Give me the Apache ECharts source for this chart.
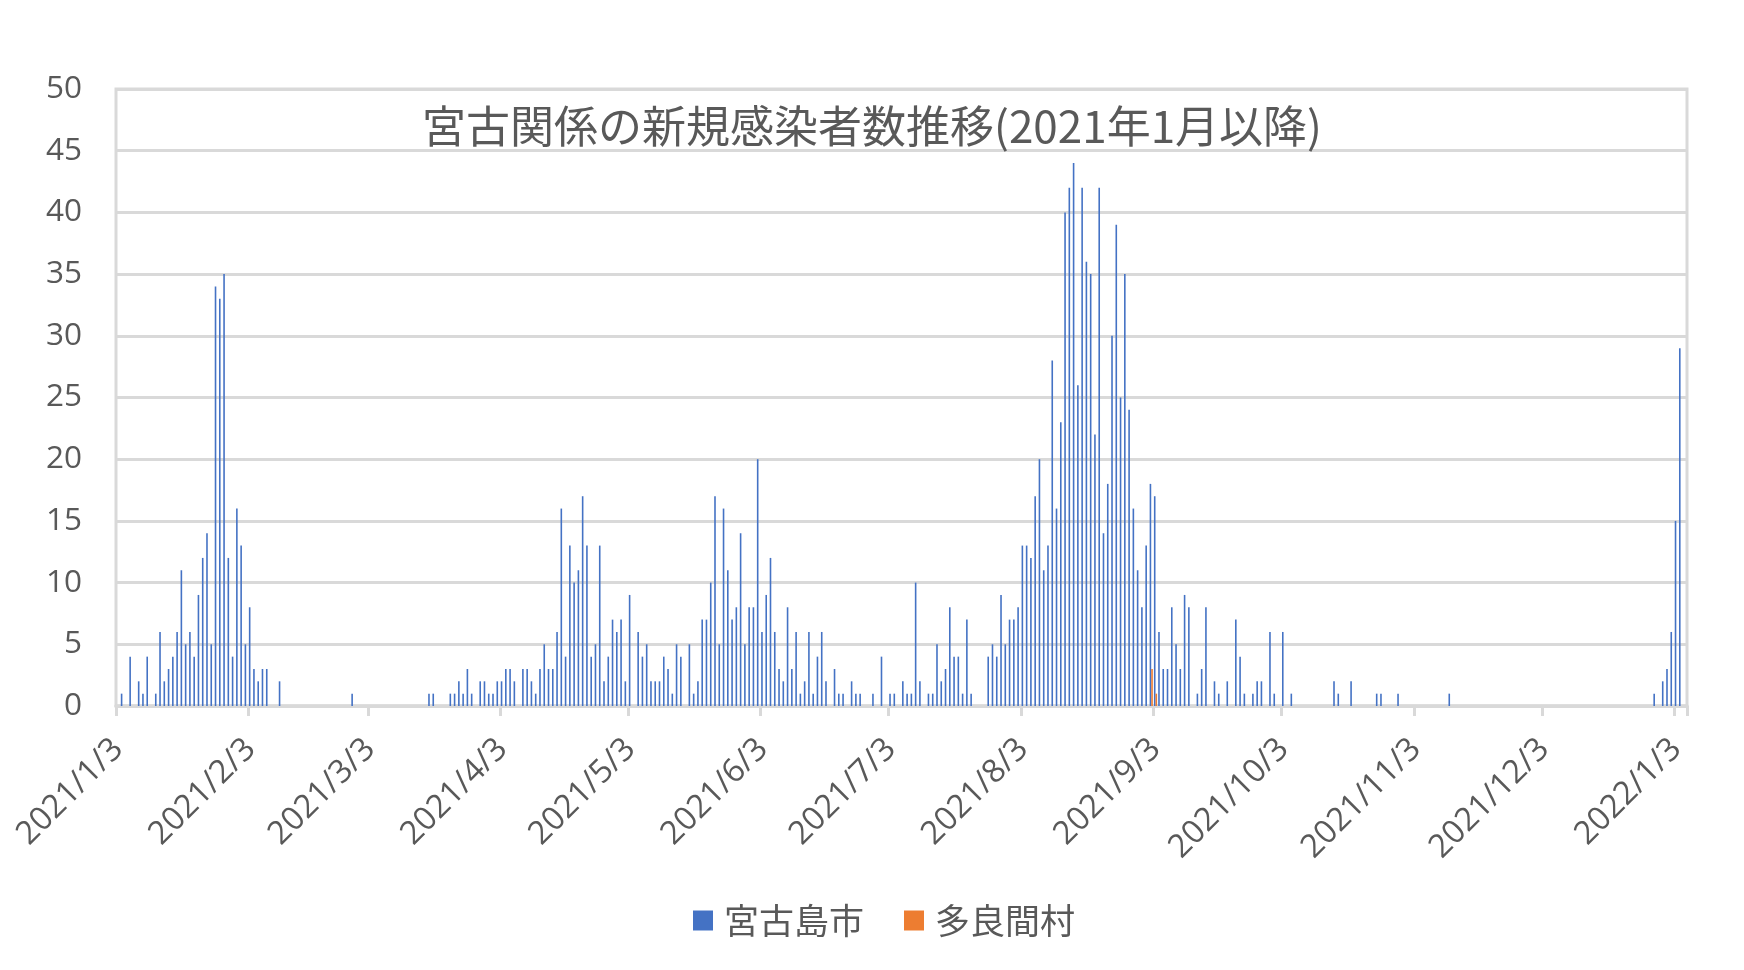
<!DOCTYPE html>
<html>
<head>
<meta charset="utf-8">
<script src="https://cdn.jsdelivr.net/npm/echarts@6/dist/echarts.min.js"></script>
<style>
html,body{margin:0;padding:0;background:#fff;}
#chart{width:1744px;height:970px;}
</style>
</head>
<body>
<div id="chart"></div>
<script>
// ---- data ----
const chartTitle = '宮古関係の新規感染者数推移(2021年1月以降)';
const seriesNames = ['宮古島市', '多良間村'];
const firstDay = [2021, 1, 3];   // year, month, day of first category
const dayCount = 368;            // 2021/1/3 .. 2022/1/5

// 宮古島市 daily counts, one row per month segment (3rd .. 2nd of next month)
const miyako_0103 = [0,1,0,4,0,2,1,4,0,1,6,2,3,4,6,11,5,6,4,9,12,14,5,34,33,35,12,4,16,13,5];
const miyako_0203 = [8,3,2,3,3,0,0,2,0,0,0,0,0,0,0,0,0,0,0,0,0,0,0,0,1,0,0,0];
const miyako_0303 = [0,0,0,0,0,0,0,0,0,0,0,0,0,0,1,1,0,0,0,1,1,2,1,3,1,0,2,2,1,1,2];
const miyako_0403 = [2,3,3,2,0,3,3,2,1,3,5,3,3,6,16,4,13,10,11,17,13,4,5,13,2,4,7,6,7,2];
const miyako_0503 = [9,0,6,4,5,2,2,2,4,3,1,5,4,0,5,1,2,7,7,10,17,5,16,11,7,8,14,5,8,8,20];
const miyako_0603 = [6,9,12,6,3,2,8,3,6,1,2,6,1,4,6,2,0,3,1,1,0,2,1,1,0,0,1,0,4,0];
const miyako_0703 = [1,1,0,2,1,1,10,2,0,1,1,5,2,3,8,4,4,1,7,1,0,0,0,4,5,4,9,5,7,7,8];
const miyako_0803 = [13,13,12,17,20,11,13,28,16,23,40,42,44,26,42,36,35,22,42,14,18,30,39,25,35,24,16,11,8,13,18];
const miyako_0903 = [17,6,3,3,8,5,3,9,8,0,1,3,8,0,2,1,0,2,0,7,4,1,0,1,2,2,0,6,1,0];
const miyako_1003 = [6,0,1,0,0,0,0,0,0,0,0,0,2,1,0,0,2,0,0,0,0,0,1,1,0,0,0,1,0,0,0];
const miyako_1103 = [0,0,0,0,0,0,0,0,1,0,0,0,0,0,0,0,0,0,0,0,0,0,0,0,0,0,0,0,0,0];
const miyako_1203 = [0,0,0,0,0,0,0,0,0,0,0,0,0,0,0,0,0,0,0,0,0,0,0,0,0,0,1,0,2,3,6];
const miyako_2201 = [15,29,0];

// 多良間村 (only non-zero days)
const tarama_days = ['2021/9/2', '2021/9/3'];
const tarama_vals = [3, 1];

// value axis
const yMin = 0, yMax = 50, yStep = 5;

// ---- build ----
const categories = [];
for (let i = 0; i < dayCount; i++) {
  const d = new Date(firstDay[0], firstDay[1] - 1, firstDay[2] + i);
  categories.push(d.getFullYear() + '/' + (d.getMonth() + 1) + '/' + d.getDate());
}
const miyako = [].concat(miyako_0103, miyako_0203, miyako_0303, miyako_0403, miyako_0503,
  miyako_0603, miyako_0703, miyako_0803, miyako_0903, miyako_1003, miyako_1103, miyako_1203, miyako_2201);
const tarama = categories.map(c => {
  const k = tarama_days.indexOf(c);
  return k >= 0 ? tarama_vals[k] : 0;
});

const isThird = (idx, val) => String(categories[idx]).split('/')[2] === '3';

const chart = echarts.init(document.getElementById('chart'), null, {renderer: 'canvas'});
chart.setOption({
  animation: false,
  backgroundColor: '#ffffff',
  title: {
    text: chartTitle,
    left: 'center',
    top: 99,
    textStyle: {
      fontFamily: '"Noto Sans CJK JP", sans-serif',
      fontSize: 44,
      fontWeight: 'normal',
      color: '#595959'
    }
  },
  legend: {
    data: seriesNames,
    left: 688,
    top: 898,
    icon: 'rect',
    itemWidth: 20,
    itemHeight: 20,
    itemGap: 40,
    textStyle: {
      fontFamily: '"Noto Sans CJK JP", sans-serif',
      fontSize: 35,
      color: '#595959',
      padding: [0, 0, 0, 6]
    }
  },
  grid: {
    left: 116,
    right: 57,
    top: 89,
    bottom: 264,
    show: true,
    borderColor: '#d9d9d9',
    borderWidth: 3,
    containLabel: false
  },
  xAxis: {
    type: 'category',
    data: categories,
    boundaryGap: true,
    axisLine: {show: true, lineStyle: {color: '#d9d9d9', width: 3.5}},
    axisTick: {show: true, interval: isThird, length: 10, lineStyle: {color: '#d9d9d9', width: 3}},
    axisLabel: {
      interval: isThird,
      rotate: 45,
      margin: 38,
      fontFamily: '"Open Sans", sans-serif',
      fontSize: 32.5,
      color: '#595959'
    },
    splitLine: {show: false}
  },
  yAxis: {
    type: 'value',
    min: yMin,
    max: yMax,
    interval: yStep,
    axisLine: {show: false},
    axisTick: {show: false},
    axisLabel: {
      margin: 34,
      fontFamily: '"Open Sans", sans-serif',
      fontSize: 31.5,
      color: '#595959'
    },
    splitLine: {lineStyle: {color: '#d9d9d9', width: 3}}
  },
  series: [
    {
      name: seriesNames[0],
      type: 'bar',
      data: miyako,
      barWidth: 1.6,
      barGap: '0%',
      itemStyle: {color: '#4472C4'}
    },
    {
      name: seriesNames[1],
      type: 'bar',
      data: tarama,
      barWidth: 1.6,
      barGap: '0%',
      itemStyle: {color: '#ED7D31'}
    }
  ]
});
</script>
</body>
</html>
